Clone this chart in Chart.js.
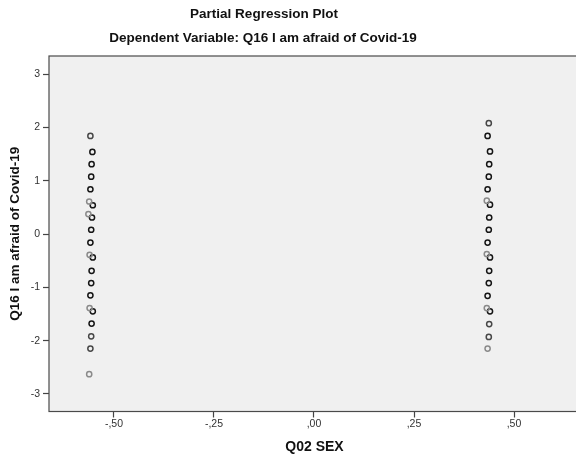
<!DOCTYPE html>
<html>
<head>
<meta charset="utf-8">
<script src="https://cdn.jsdelivr.net/npm/chart.js@4"></script>
<style>
  html, body { margin: 0; padding: 0; background: #fff; overflow: hidden; }
  #wrap { width: 600px; height: 457px; }
</style>
</head>
<body>
<div id="wrap"><canvas id="plot" width="600" height="457"></canvas></div>
<script>
// Partial residuals: Q02 SEX (x) against Q16 (y)
// cases drawn darker where several residuals coincide
const darkX = [-0.554, -0.556, -0.557, -0.559, -0.553, -0.555, -0.557, -0.559, -0.553, -0.556, -0.557, -0.559, -0.553, -0.556,
               0.434, 0.440, 0.438, 0.437, 0.434, 0.440, 0.438, 0.437, 0.434, 0.440, 0.438, 0.437, 0.434, 0.440];
const darkY = [1.54, 1.31, 1.075, 0.84, 0.54, 0.31, 0.08, -0.16, -0.44, -0.69, -0.92, -1.15, -1.45, -1.68,
               1.84, 1.55, 1.31, 1.075, 0.84, 0.55, 0.31, 0.08, -0.16, -0.44, -0.69, -0.92, -1.16, -1.45];
const midX = [-0.559, -0.557, -0.559, 0.437, 0.438, 0.437];
const midY = [1.84, -1.92, -2.15, 2.08, -1.69, -1.93];
const lightX = [-0.562, -0.564, -0.561, -0.561, -0.562, 0.432, 0.432, 0.432, 0.434];
const lightY = [0.61, 0.375, -0.39, -1.39, -2.63, 0.625, -0.375, -1.39, -2.15];

const xTickValues = [-0.5, -0.25, 0, 0.25, 0.5];
const xTickLabels = ['-,50', '-,25', ',00', ',25', ',50'];
const yTickValues = [-3, -2, -1, 0, 1, 2, 3];
const yTickLabels = ['-3', '-2', '-1', '0', '1', '2', '3'];

const chartTitle = 'Partial Regression Plot';
const chartSubtitle = 'Dependent Variable: Q16 I am afraid of Covid-19';

const toPoints = (xs, ys) => xs.map((x, i) => ({ x: x, y: ys[i] }));

const markerStyle = color => ({
    pointStyle: 'circle',
    pointRadius: 2.6,
    pointHoverRadius: 2.6,
    pointBorderWidth: 1.5,
    pointBorderColor: color,
    pointBackgroundColor: 'rgba(0,0,0,0)',
    showLine: false
});

// grey plot background + frame, and the two heading lines
const frame = {
    id: 'frame',
    beforeDatasetsDraw(chart) {
        const { ctx, chartArea: a } = chart;
        ctx.save();
        ctx.fillStyle = '#f0f0f0';
        ctx.fillRect(a.left, a.top, a.right - a.left, a.bottom - a.top);
        ctx.restore();
    },
    afterDraw(chart) {
        const { ctx, chartArea: a } = chart;
        ctx.save();
        ctx.strokeStyle = '#4a4a4a';
        ctx.lineWidth = 1.2;
        ctx.strokeRect(a.left, a.top, a.right - a.left, a.bottom - a.top);
        ctx.fillStyle = '#111';
        ctx.textAlign = 'center';
        ctx.textBaseline = 'middle';
        ctx.font = 'bold 13.5px "Liberation Sans", Arial, sans-serif';
        ctx.fillText(chartTitle, 264, 14);
        ctx.font = 'bold 13.5px "Liberation Sans", Arial, sans-serif';
        ctx.fillText(chartSubtitle, 263, 38);
        ctx.restore();
    }
};

const fontFamily = '"Liberation Sans", Arial, sans-serif';
const tickFont = { family: fontFamily, size: 10.5 };

new Chart(document.getElementById('plot'), {
    type: 'scatter',
    data: {
        datasets: [
            { label: 'single', data: toPoints(lightX, lightY), ...markerStyle('#8a8a8a') },
            { label: 'few', data: toPoints(midX, midY), ...markerStyle('#474747') },
            { label: 'many', data: toPoints(darkX, darkY), ...markerStyle('#151515') }
        ]
    },
    options: {
        responsive: false,
        animation: false,
        layout: { padding: { top: 56, right: 20, left: 0, bottom: 0 } },
        plugins: {
            legend: { display: false },
            tooltip: { enabled: false }
        },
        scales: {
            x: {
                type: 'linear',
                min: -0.6625,
                max: 0.665,
                afterFit: s => { s.height = 45.5; },
                afterBuildTicks: s => { s.ticks = xTickValues.map(v => ({ value: v })); },
                grid: { drawOnChartArea: false, tickLength: 6, tickColor: '#444', tickWidth: 1.2 },
                border: { display: false },
                ticks: {
                    color: '#333',
                    font: tickFont,
                    padding: 0,
                    maxRotation: 0,
                    callback: (v) => xTickLabels[xTickValues.indexOf(v)]
                },
                title: {
                    display: true,
                    text: 'Q02 SEX',
                    color: '#111',
                    font: { family: fontFamily, size: 14, weight: 'bold' },
                    padding: { top: 0, bottom: 1 }
                }
            },
            y: {
                type: 'linear',
                min: -3.33,
                max: 3.34,
                afterFit: s => { s.width = 49; },
                afterBuildTicks: s => { s.ticks = yTickValues.map(v => ({ value: v })); },
                grid: { drawOnChartArea: false, tickLength: 6, tickColor: '#444', tickWidth: 1.2 },
                border: { display: false },
                ticks: {
                    color: '#333',
                    font: tickFont,
                    padding: 3,
                    callback: (v) => yTickLabels[yTickValues.indexOf(v)]
                },
                title: {
                    display: true,
                    text: 'Q16 I am afraid of Covid-19',
                    color: '#111',
                    font: { family: fontFamily, size: 13.5, weight: 'bold' },
                    padding: { top: 7, bottom: 0 }
                }
            }
        }
    },
    plugins: [frame]
});
</script>
</body>
</html>
